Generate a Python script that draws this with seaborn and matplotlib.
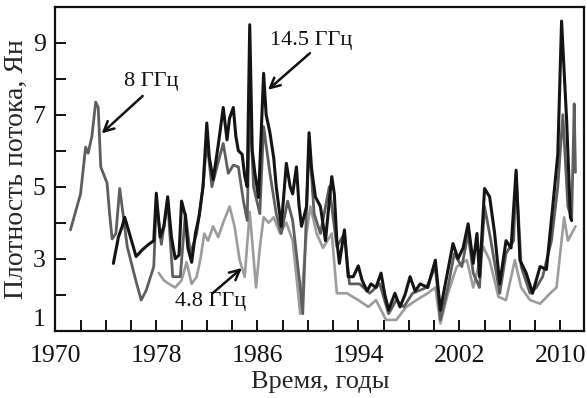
import numpy as np
import pandas as pd
import matplotlib
matplotlib.use("Agg")
import matplotlib.pyplot as plt
import seaborn as sns

# ---- data ----
years_145 = [1974.6, 1975.0, 1975.3, 1975.5, 1976.4, 1976.9, 1977.4, 1977.8, 1978.0, 1978.3,
             1978.6, 1978.9, 1979.2, 1979.5, 1979.8, 1980.0, 1980.3, 1980.5, 1980.8, 1981.1,
             1981.4, 1981.7, 1982.0, 1982.2, 1982.5, 1982.8, 1983.0, 1983.3, 1983.6, 1983.8,
             1984.1, 1984.3, 1984.5, 1984.8, 1985.0, 1985.2, 1985.4, 1985.6, 1985.8, 1986.1,
             1986.5, 1986.7, 1987.0, 1987.3, 1987.5, 1987.9, 1988.3, 1988.6, 1988.8, 1989.1,
             1989.3, 1989.5, 1989.9, 1990.1, 1990.3, 1990.6, 1991.0, 1991.4, 1991.7, 1991.9,
             1992.1, 1992.3, 1992.5, 1992.9, 1993.2, 1993.6, 1994.0, 1994.3, 1994.7, 1995.0,
             1995.4, 1995.8, 1996.1, 1996.4, 1996.9, 1997.3, 1997.7, 1998.1, 1998.5, 1998.9,
             1999.5, 2000.1, 2000.5, 2001.0, 2001.5, 2001.9, 2002.3, 2002.7, 2003.1, 2003.4,
             2003.6, 2004.0, 2004.4, 2004.8, 2005.2, 2005.7, 2006.1, 2006.5, 2006.8, 2007.3,
             2007.8, 2008.4, 2008.9, 2009.4, 2009.8, 2010.1, 2010.5, 2010.8, 2010.9]
flux_145 = [2.87, 3.6, 3.9, 4.15, 3.06, 3.25, 3.4, 3.5, 4.82, 3.6,
            3.9, 4.72, 3.6, 3.0, 3.1, 4.6, 4.2, 3.3, 2.9, 3.7,
            4.2, 5.0, 6.77, 5.8, 5.2, 5.9, 6.4, 7.2, 6.3, 6.9,
            7.2, 6.4, 6.0, 5.9, 5.3, 5.0, 9.5, 6.0, 5.4, 4.7,
            8.15, 7.0, 6.5, 5.8, 5.0, 3.9, 5.65, 5.0, 4.8, 5.55,
            4.5, 3.9, 4.45, 6.5, 5.5, 4.72, 4.45, 3.5, 4.6, 5.28,
            4.8, 3.5, 2.87, 3.8, 2.5, 2.5, 2.8, 2.4, 2.1, 2.3,
            2.2, 2.6, 2.0, 1.57, 2.04, 1.66, 2.0, 2.5, 2.1, 2.3,
            2.2, 2.96, 1.57, 2.5, 3.42, 3.0, 3.3, 3.97, 2.87, 3.7,
            2.5, 4.95, 4.72, 3.7, 2.3, 3.5, 3.3, 5.46, 2.96, 2.6,
            2.04, 2.78, 2.7, 4.45, 5.9, 9.6, 6.85, 4.15, 4.06]

years_8 = [1971.2, 1972.0, 1972.4, 1972.6, 1972.9, 1973.2, 1973.4, 1973.6, 1974.1, 1974.3,
           1974.5, 1974.8, 1975.1, 1975.4, 1975.7, 1976.3, 1976.8, 1977.2, 1977.8, 1978.0,
           1978.4, 1978.9, 1979.3, 1979.9, 1980.3, 1980.7, 1981.2, 1981.7, 1982.0, 1982.4,
           1982.8, 1983.3, 1983.7, 1984.1, 1984.5, 1984.9, 1985.2, 1985.4, 1985.7, 1986.2,
           1986.5, 1987.0, 1987.5, 1987.9, 1988.4, 1988.8, 1989.4, 1989.6, 1990.1, 1990.5,
           1991.0, 1991.7, 1992.3, 1992.9, 1993.3, 1994.1, 1994.9, 1995.7, 1996.4, 1997.0,
           1997.6, 1998.3, 1999.4, 2000.1, 2000.5, 2001.1, 2001.6, 2002.2, 2002.7, 2003.1,
           2003.6, 2004.0, 2004.5, 2005.2, 2005.7, 2006.3, 2006.5, 2006.9, 2007.6, 2008.1,
           2008.6, 2009.3, 2009.8, 2010.2, 2010.6, 2010.9, 2011.1, 2011.2]
flux_8 = [3.8, 4.8, 6.1, 5.93, 6.4, 7.35, 7.2, 5.55, 5.1, 4.25,
          3.55, 3.7, 4.95, 4.15, 3.33, 2.5, 1.85, 2.12, 2.78, 4.6,
          3.4, 4.6, 2.5, 2.5, 4.25, 3.14, 3.7, 5.0, 6.3, 5.0,
          5.55, 6.2, 5.37, 5.6, 5.55, 4.6, 4.06, 7.4, 5.0, 4.25,
          6.67, 5.37, 4.25, 3.7, 4.6, 4.06, 2.2, 1.47, 6.3, 4.25,
          3.7, 5.0, 3.33, 3.7, 2.3, 2.3, 2.04, 2.3, 1.47, 1.85,
          1.66, 2.04, 2.2, 2.78, 1.3, 2.2, 3.14, 2.78, 3.7, 2.6,
          2.2, 4.45, 3.5, 2.04, 3.14, 3.5, 5.37, 2.78, 2.04, 2.2,
          2.5, 3.5, 5.0, 7.0, 4.45, 4.1, 7.3, 5.4]

years_48 = [1978.2, 1978.6, 1979.0, 1979.5, 1980.0, 1980.4, 1980.8, 1981.2, 1981.5, 1981.8,
            1982.1, 1982.5, 1982.9, 1983.3, 1983.8, 1984.2, 1984.6, 1985.0, 1985.4, 1985.9,
            1986.2, 1986.5, 1986.9, 1987.3, 1987.8, 1988.3, 1988.8, 1989.1, 1989.4, 1989.9,
            1990.2, 1990.7, 1991.2, 1991.9, 1992.3, 1993.1, 1994.0, 1994.8, 1995.4, 1996.2,
            1997.0, 1997.8, 1998.6, 1999.5, 2000.1, 2000.5, 2001.1, 2001.8, 2002.6, 2003.1,
            2003.9, 2004.4, 2005.1, 2005.7, 2006.4, 2006.9, 2007.6, 2008.4, 2009.2, 2009.7,
            2010.3, 2010.6, 2011.2]
flux_48 = [2.6, 2.4, 2.3, 2.2, 2.4, 2.9, 2.3, 2.5, 3.0, 3.7,
           3.5, 3.9, 3.6, 4.0, 4.45, 3.9, 2.96, 2.5, 4.3, 2.2,
           3.3, 4.15, 4.0, 4.15, 3.7, 4.0, 3.5, 2.5, 1.47, 3.7,
           4.45, 3.7, 3.3, 3.7, 2.04, 2.04, 1.85, 1.66, 1.85, 1.3,
           1.3, 1.66, 1.85, 2.04, 2.2, 1.2, 2.04, 2.78, 2.96, 2.2,
           3.33, 2.96, 1.94, 1.85, 2.96, 2.2, 1.85, 1.75, 2.04, 2.2,
           4.15, 3.5, 3.9]

series_names = ["4.8 ГГц", "8 ГГц", "14.5 ГГц"]
series_colors = ["#9c9c9c", "#5e5e5e", "#141414"]

x_major = [1970, 1978, 1986, 1994, 2002, 2010]
y_major = [1, 3, 5, 7, 9]

df = pd.concat([
    pd.DataFrame({"year": years_48, "flux": flux_48, "band": series_names[0]}),
    pd.DataFrame({"year": years_8, "flux": flux_8, "band": series_names[1]}),
    pd.DataFrame({"year": years_145, "flux": flux_145, "band": series_names[2]}),
], ignore_index=True)

sns.set_style("ticks")
plt.rcParams["font.family"] = ["Liberation Serif", "DejaVu Serif"]

fig = plt.figure(figsize=(5.87, 3.98), dpi=100)
ax = fig.add_axes([55.3 / 587, 1 - 330.7 / 398, (584.3 - 55.3) / 587, (330.7 - 6.7) / 398])

widths = {series_names[0]: 1.9, series_names[1]: 2.0, series_names[2]: 2.2}
for name, col in zip(series_names, series_colors):
    sub = df[df["band"] == name]
    sns.lineplot(data=sub, x="year", y="flux", color=col, lw=widths[name],
                 estimator=None, sort=True, legend=False, ax=ax)

ax.set_xlim(1970, 2011.9)
ax.set_ylim(1, 10)
ax.set_xticks(x_major)
ax.set_xticklabels([str(v) for v in x_major])
ax.set_xticks(np.arange(1972, 2011, 2), minor=True)
ax.set_yticks(y_major)
ax.set_yticklabels([str(v) for v in y_major])
ax.set_yticks([2, 4, 6, 8, 10], minor=True)
ax.tick_params(axis="both", which="both", direction="in", length=8, width=1.4,
               top=False, right=False, colors="#111111")
ax.tick_params(axis="x", which="major", labelsize=18.5, pad=10)
ax.tick_params(axis="y", which="major", labelsize=18.5, pad=7)
ax.get_yticklabels()[0].set_va("bottom")
for s in ax.spines.values():
    s.set_linewidth(1.6)
    s.set_color("#111111")

ax.set_xlabel("Время, годы", fontsize=19, labelpad=3)
ax.set_ylabel("Плотность потока, Ян", fontsize=20, labelpad=3)

arrow = dict(arrowstyle="->", lw=1.8, color="#111111",
             mutation_scale=18, shrinkA=0, shrinkB=0)
ax.annotate("", xy=(1986.84, 7.69), xytext=(1990.17, 8.71), arrowprops=arrow)
ax.text(1990.25, 9.07, "14.5 ГГц", fontsize=16, ha="center", va="center", color="#111111")
ax.annotate("", xy=(1973.67, 6.48), xytext=(1976.92, 7.52), arrowprops=arrow)
ax.text(1977.58, 7.91, "8 ГГц", fontsize=16, ha="center", va="center", color="#111111")
ax.annotate("", xy=(1984.78, 2.74), xytext=(1982.49, 2.05), arrowprops=arrow)
ax.text(1982.33, 1.80, "4.8 ГГц", fontsize=16, ha="center", va="center", color="#111111")

fig.savefig("out.png", dpi=100)
